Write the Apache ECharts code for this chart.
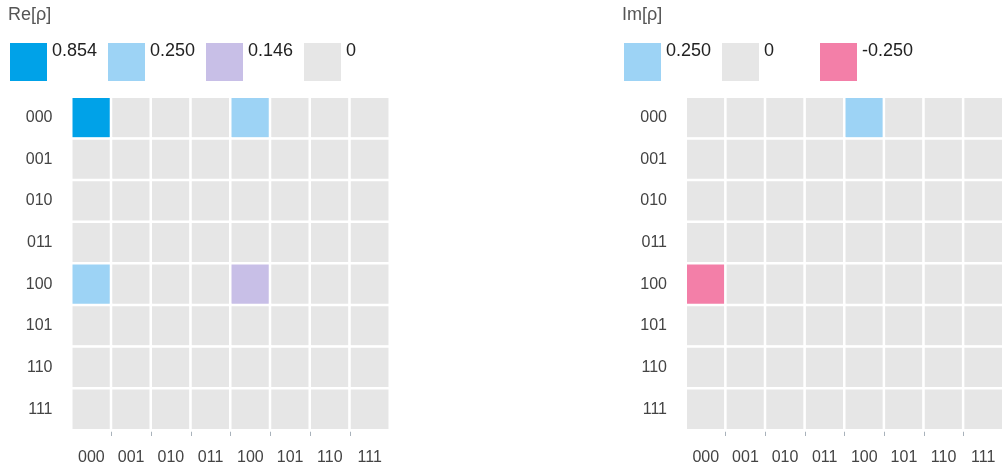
<!DOCTYPE html>
<html>
<head>
<meta charset="utf-8">
<title>Density matrix</title>
<script src="https://cdn.jsdelivr.net/npm/echarts@6/dist/echarts.min.js"></script>
<style>
  html, body { margin: 0; padding: 0; background: #fff; }
  #chart { width: 1003px; height: 470px; }
</style>
</head>
<body>
<div id="chart"></div>
<script>
// Computational basis states of the 3-qubit register
const basis = ['000', '001', '010', '011', '100', '101', '110', '111'];

// Real part of the density matrix, one array per row
const reRows = [
  [0.854, 0, 0, 0, 0.25, 0, 0, 0],
  [0, 0, 0, 0, 0, 0, 0, 0],
  [0, 0, 0, 0, 0, 0, 0, 0],
  [0, 0, 0, 0, 0, 0, 0, 0],
  [0.25, 0, 0, 0, 0.146, 0, 0, 0],
  [0, 0, 0, 0, 0, 0, 0, 0],
  [0, 0, 0, 0, 0, 0, 0, 0],
  [0, 0, 0, 0, 0, 0, 0, 0]
];

// Imaginary part of the density matrix, one array per row
const imRows = [
  [0, 0, 0, 0, 0.25, 0, 0, 0],
  [0, 0, 0, 0, 0, 0, 0, 0],
  [0, 0, 0, 0, 0, 0, 0, 0],
  [0, 0, 0, 0, 0, 0, 0, 0],
  [-0.25, 0, 0, 0, 0, 0, 0, 0],
  [0, 0, 0, 0, 0, 0, 0, 0],
  [0, 0, 0, 0, 0, 0, 0, 0],
  [0, 0, 0, 0, 0, 0, 0, 0]
];

// Distinct entries shown in each key, with their labels and colours
const reLevels = [0.854, 0.25, 0.146, 0];
const reLabels = ['0.854', '0.250', '0.146', '0'];
const reColors = ['#00a2e8', '#9dd3f5', '#c8bfe7', '#e6e6e6'];

const imLevels = [0.25, 0, -0.25];
const imLabels = ['0.250', '0', '-0.250'];
const imColors = ['#9dd3f5', '#e6e6e6', '#f37fa8'];

const FONT = "'Liberation Sans', Arial, sans-serif";

function toCells(rows) {
  const cells = [];
  rows.forEach((row, r) => row.forEach((v, c) => cells.push([c, r, v])));
  return cells;
}

// A trailing empty line lifts each key label to the top edge of its swatch
function pieces(levels, labels, colors) {
  return levels.map((v, i) => ({ value: v, label: labels[i] + '\n', color: colors[i] }));
}

function keyMap(seriesIndex, left, levels, labels, colors) {
  return {
    type: 'piecewise',
    seriesIndex: seriesIndex,
    orient: 'horizontal',
    inverse: true,
    left: left,
    top: 41,
    padding: 0,
    itemWidth: 37,
    itemHeight: 38,
    itemGap: 9,
    textGap: 5,
    itemSymbol: 'rect',
    selectedMode: false,
    hoverLink: false,
    pieces: pieces(levels, labels, colors),
    textStyle: {
      fontFamily: FONT,
      fontSize: 18,
      color: '#222',
      width: 47,
      lineHeight: 21
    }
  };
}

function gridSpec(left) {
  return { left: left, top: 97, width: 318, height: 333, containLabel: false };
}

function labelAxisX(gridIndex) {
  return {
    type: 'category', gridIndex: gridIndex, data: basis, position: 'bottom',
    axisLine: { show: false }, axisTick: { show: false }, splitLine: { show: false },
    axisLabel: { fontFamily: FONT, fontSize: 16, color: '#444', margin: 20 }
  };
}

// Baseline with ticks at the inner cell boundaries only
function tickAxisX(gridIndex) {
  return {
    type: 'category', gridIndex: gridIndex, position: 'bottom', boundaryGap: false,
    data: basis.concat(['']),
    axisLine: { show: true, lineStyle: { color: '#a9b2bb', width: 1 } },
    axisTick: {
      show: true, length: 6, lineStyle: { color: '#a9b2bb' },
      interval: (i) => i > 0 && i < basis.length
    },
    axisLabel: { show: false }, splitLine: { show: false }
  };
}

function labelAxisY(gridIndex) {
  return {
    type: 'category', gridIndex: gridIndex, data: basis, inverse: true,
    axisLine: { show: false }, axisTick: { show: false }, splitLine: { show: false },
    axisLabel: { fontFamily: FONT, fontSize: 16, color: '#444', margin: 19 }
  };
}

function heat(xi, yi, rows) {
  return {
    type: 'heatmap',
    xAxisIndex: xi, yAxisIndex: yi,
    data: toCells(rows),
    itemStyle: { borderColor: '#fff', borderWidth: 2.5 },
    emphasis: { disabled: true },
    label: { show: false }
  };
}

const chart = echarts.init(document.getElementById('chart'), null, { renderer: 'canvas' });

chart.setOption({
  animation: false,
  backgroundColor: '#fff',
  textStyle: { fontFamily: FONT },
  title: [
    { text: 'Re[ρ]', left: 8, top: 5, padding: 0,
      textStyle: { fontFamily: FONT, fontSize: 18, fontWeight: 'normal', color: '#555', lineHeight: 20 } },
    { text: 'Im[ρ]', left: 622, top: 5, padding: 0,
      textStyle: { fontFamily: FONT, fontSize: 18, fontWeight: 'normal', color: '#555', lineHeight: 20 } }
  ],
  grid: [gridSpec(71.5), gridSpec(686)],
  xAxis: [labelAxisX(0), tickAxisX(0), labelAxisX(1), tickAxisX(1)],
  yAxis: [labelAxisY(0), labelAxisY(1)],
  visualMap: [
    keyMap(0, 10, reLevels, reLabels, reColors),
    keyMap(1, 624, imLevels, imLabels, imColors)
  ],
  series: [
    heat(0, 0, reRows),
    heat(2, 1, imRows)
  ]
});
</script>
</body>
</html>
